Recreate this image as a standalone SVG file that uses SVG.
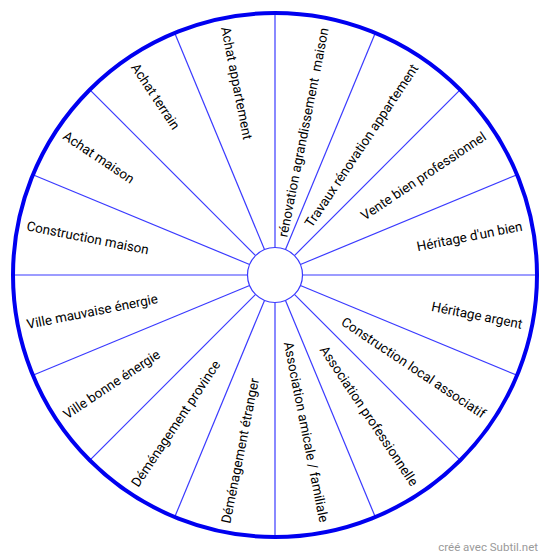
<svg xmlns="http://www.w3.org/2000/svg" width="550" height="559" viewBox="0 0 550 559">
<style>
.sp{stroke:#3a3aff;stroke-width:1.2;fill:none}
.lb{font-family:Roboto,"Liberation Sans",sans-serif;font-size:13.4px;fill:#000}
.r{text-anchor:end}
.l{text-anchor:start}
</style>
<rect width="550" height="559" fill="#fff"/>
<g id="spokes" class="sp">
<line x1="275" y1="247.5" x2="275" y2="13"/>
<line x1="285.5" y1="249.6" x2="375.3" y2="32.9"/>
<line x1="294.4" y1="255.6" x2="460.3" y2="89.7"/>
<line x1="300.4" y1="264.5" x2="517.1" y2="174.7"/>
<line x1="302.5" y1="275" x2="537" y2="275"/>
<line x1="300.4" y1="285.5" x2="517.1" y2="375.3"/>
<line x1="294.4" y1="294.4" x2="460.3" y2="460.3"/>
<line x1="285.5" y1="300.4" x2="375.3" y2="517.1"/>
<line x1="275" y1="302.5" x2="275" y2="537"/>
<line x1="264.5" y1="300.4" x2="174.7" y2="517.1"/>
<line x1="255.6" y1="294.4" x2="89.7" y2="460.3"/>
<line x1="249.6" y1="285.5" x2="32.9" y2="375.3"/>
<line x1="247.5" y1="275" x2="13" y2="275"/>
<line x1="249.6" y1="264.5" x2="32.9" y2="174.7"/>
<line x1="255.6" y1="255.6" x2="89.7" y2="89.7"/>
<line x1="264.5" y1="249.6" x2="174.7" y2="32.9"/>
</g>
<circle id="hub" cx="275" cy="275" r="27.5" fill="#fff" stroke="#3a3aff" stroke-width="1.2"/>
<circle id="rim" cx="275" cy="275" r="262" fill="none" stroke="#0000f0" stroke-width="4"/>
<g id="labels">
<g id="s1"><text class="lb r" xml:space="preserve" transform="rotate(-78.75 275 275)" x="527" y="275" dy="0.35em">rénovation agrandissement  maison</text></g>
<g id="s2"><text class="lb r" transform="rotate(-56.25 275 275)" x="527" y="275" dy="0.35em">Travaux rénovation appartement</text></g>
<g id="s3"><text class="lb r" transform="rotate(-33.75 275 275)" x="527" y="275" dy="0.35em">Vente bien professionnel</text></g>
<g id="s4"><text class="lb r" transform="rotate(-11.25 275 275)" x="527" y="275" dy="0.35em">Héritage d'un bien</text></g>
<g id="s5"><text class="lb r" transform="rotate(11.25 275 275)" x="527" y="275" dy="0.35em">Héritage argent</text></g>
<g id="s6"><text class="lb r" transform="rotate(33.75 275 275)" x="527" y="275" dy="0.35em">Construction local associatif</text></g>
<g id="s7"><text class="lb r" transform="rotate(56.25 275 275)" x="527" y="275" dy="0.35em">Association professionnelle</text></g>
<g id="s8"><text class="lb r" transform="rotate(78.75 275 275)" x="527" y="275" dy="0.35em">Association amicale / familiale</text></g>
<g id="s9"><text class="lb l" transform="rotate(-78.75 275 275)" x="22" y="275" dy="0.35em">Déménagement étranger</text></g>
<g id="s10"><text class="lb l" transform="rotate(-56.25 275 275)" x="22" y="275" dy="0.35em">Déménagement province</text></g>
<g id="s11"><text class="lb l" transform="rotate(-33.75 275 275)" x="22" y="275" dy="0.35em">Ville bonne énergie</text></g>
<g id="s12"><text class="lb l" transform="rotate(-11.25 275 275)" x="22" y="275" dy="0.35em">Ville mauvaise énergie</text></g>
<g id="s13"><text class="lb l" transform="rotate(11.25 275 275)" x="22" y="275" dy="0.35em">Construction maison</text></g>
<g id="s14"><text class="lb l" transform="rotate(33.75 275 275)" x="22" y="275" dy="0.35em">Achat maison</text></g>
<g id="s15"><text class="lb l" transform="rotate(56.25 275 275)" x="22" y="275" dy="0.35em">Achat terrain</text></g>
<g id="s16"><text class="lb l" transform="rotate(78.75 275 275)" x="22" y="275" dy="0.35em">Achat appartement</text></g>
</g>
<text x="538" y="551" text-anchor="end" font-family="Roboto,'Liberation Sans',sans-serif" font-size="11.5" fill="#9a9a9a">créé avec Subtil.net</text>
</svg>
